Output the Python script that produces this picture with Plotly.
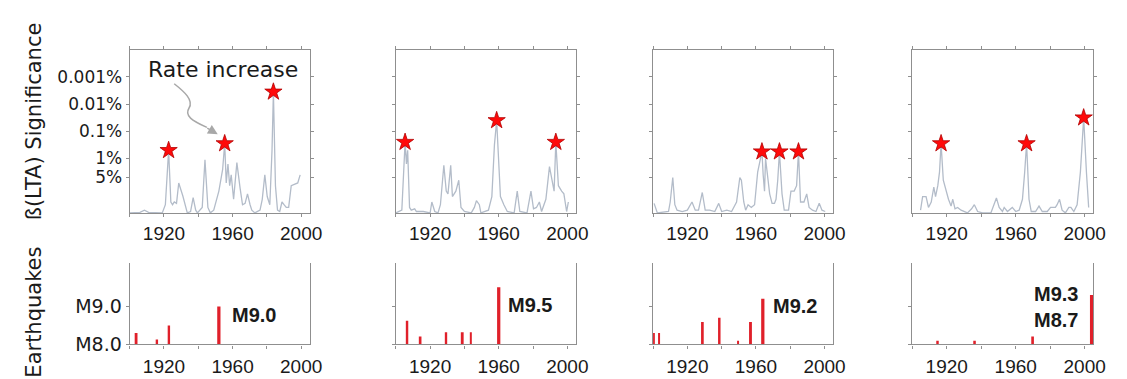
import plotly.graph_objects as go

W, H = 1127, 379

# ---------------- data ----------------
# Significance curves, expressed as -log10(p)
years1 = [1900, 1906, 1908.6, 1911, 1919, 1920.8, 1922.7, 1924, 1925, 1926, 1927.3, 1928.6, 1931, 1933.6, 1935.5, 1937, 1938.5, 1939.5, 1942.3, 1943.9, 1945.6, 1947, 1949, 1952, 1954.2, 1955.4, 1956.3, 1957.3, 1958.3, 1959.2, 1960.6, 1962.5, 1964.4, 1965.8, 1967.3, 1968.7, 1970.2, 1971.2, 1973, 1976, 1977.3, 1978.8, 1980.2, 1981.7, 1983, 1983.8, 1985, 1986.2, 1987.5, 1988.8, 1990, 1991.3, 1992.7, 1994.2, 1996, 1998, 1999.4]
sig1 = [0.0, 0.02, 0.1, 0.02, 0.0, 0.3, 2.3, 0.4, 0.3, 0.4, 0.35, 1.1, 0.62, 0.0, 0.05, 0.56, 0.1, 0.0, 0.2, 1.95, 0.2, 0.0, 0.1, 0.8, 1.6, 2.55, 1.1, 1.8, 1.0, 1.4, 0.5, 1.85, 0.9, 0.3, 0.35, 0.7, 0.3, 0.1, 0.0, 0.1, 0.5, 1.4, 0.6, 0.3, 2.3, 4.45, 1.0, 0.1, 0.05, 0.4, 0.3, 0.2, 0.2, 1.0, 1.05, 1.1, 1.4]
star1_years = [1922.7, 1955.4, 1983.8]
star1_sig = [2.3, 2.55, 4.45]

years2 = [1900, 1903.5, 1905.4, 1906.2, 1906.9, 1908, 1909, 1911, 1912, 1916, 1920, 1921, 1922.7, 1924.6, 1926, 1928, 1929.4, 1930.4, 1932, 1933, 1935, 1936.7, 1938, 1940, 1944, 1945.8, 1947, 1948.7, 1949.6, 1954, 1956, 1957.5, 1958.8, 1960.2, 1961, 1963, 1965, 1969, 1970.8, 1972.3, 1976.5, 1978.8, 1980.3, 1982, 1983.7, 1985, 1987.5, 1989.6, 1991, 1992.3, 1993.3, 1994.8, 1996.7, 1998, 1999.6, 2000.6]
sig2 = [0.0, 0.1, 2.6, 1.8, 2.3, 0.2, 0.1, 0.15, 0.05, 0.05, 0.0, 0.4, 0.05, 0.0, 0.3, 1.75, 0.8, 0.7, 1.75, 0.6, 0.8, 1.2, 0.2, 0.05, 0.0, 0.2, 0.45, 0.3, 0.0, 0.1, 0.6, 2.5, 3.4, 1.8, 0.6, 0.3, 0.05, 0.0, 0.8, 0.05, 0.0, 0.8, 0.15, 0.2, 0.4, 0.05, 0.5, 1.7, 1.2, 0.8, 2.6, 1.0, 0.8, 0.7, 0.05, 0.4]
star2_years = [1905.4, 1958.8, 1993.3]
star2_sig = [2.6, 3.4, 2.6]

years3 = [1900.6, 1902.5, 1909, 1910, 1911.5, 1912.7, 1914, 1917, 1920, 1922.7, 1924.6, 1926.5, 1928.7, 1930.4, 1933, 1936, 1938.3, 1940, 1943, 1945.8, 1948.7, 1950.6, 1951.5, 1952.9, 1954, 1955.4, 1957.3, 1959.2, 1961, 1962.5, 1963.5, 1964.2, 1965, 1965.6, 1966.5, 1968, 1969.4, 1970.8, 1971.7, 1972.7, 1973.7, 1975.2, 1976.5, 1979, 1980.4, 1982.3, 1983.7, 1984.8, 1986, 1988, 1989.6, 1991, 1993, 1995, 1996.9, 1998.5, 2000.4]
sig3 = [0.35, 0.0, 0.05, 0.4, 1.3, 0.3, 0.1, 0.05, 0.1, 0.4, 0.1, 0.1, 0.75, 0.1, 0.1, 0.05, 0.35, 0.05, 0.1, 0.05, 0.4, 1.3, 1.2, 0.4, 0.1, 0.3, 0.2, 0.3, 1.5, 2.0, 2.25, 1.4, 0.8, 2.0, 1.5, 0.7, 0.35, 0.35, 0.5, 1.2, 2.25, 0.7, 0.1, 0.1, 0.8, 0.8, 1.0, 2.25, 0.4, 0.4, 0.7, 0.2, 0.1, 0.05, 0.35, 0.1, 0.05]
star3_years = [1963.5, 1973.7, 1984.8]
star3_sig = [2.25, 2.25, 2.25]

years4 = [1904.8, 1906, 1908, 1909.4, 1911, 1912.5, 1913.5, 1914.8, 1915.8, 1916.7, 1918, 1919.6, 1921, 1922.5, 1923.5, 1924.8, 1926.3, 1928.3, 1930, 1932, 1934.4, 1936, 1937.9, 1940.8, 1945.6, 1947.5, 1948.8, 1950.4, 1952.3, 1953.3, 1955.2, 1958, 1960, 1962, 1963.9, 1965.2, 1966.3, 1967.7, 1969, 1971.5, 1973.5, 1975.4, 1978.3, 1980.2, 1983, 1984, 1985.4, 1986.9, 1988.8, 1990.8, 1992, 1993.7, 1995.6, 1997.5, 1999.4, 2001, 2002.3]
sig4 = [0.1, 0.6, 0.6, 0.2, 0.4, 0.95, 0.6, 1.0, 1.5, 2.55, 1.2, 0.8, 0.5, 0.25, 0.5, 0.15, 0.2, 0.1, 0.05, 0.0, 0.15, 0.3, 0.05, 0.0, 0.0, 0.3, 0.55, 0.2, 0.05, 0.2, 0.05, 0.2, 0.05, 0.1, 0.5, 1.5, 2.55, 0.5, 0.05, 0.05, 0.25, 0.05, 0.05, 0.2, 0.2, 0.3, 0.5, 0.1, 0.0, 0.2, 0.2, 0.05, 0.3, 1.5, 3.5, 1.5, 0.2]
star4_years = [1916.7, 1966.3, 1999.4]
star4_sig = [2.55, 2.55, 3.5]

# Earthquakes (year, magnitude)
eq1_years = [1904, 1916, 1923, 1952]
eq1_mag = [8.3, 8.13, 8.5, 9.0]
eq2_years = [1906.7, 1914.4, 1929.4, 1939, 1943.7, 1960]
eq2_mag = [8.62, 8.21, 8.32, 8.32, 8.32, 9.5]
eq3_years = [1900.5, 1903.5, 1929, 1938.8, 1949.6, 1957.1, 1964]
eq3_mag = [8.3, 8.3, 8.59, 8.7, 8.1, 8.59, 9.2]
eq4_years = [1914.8, 1936.3, 1970, 2004, 2005]
eq4_mag = [8.1, 8.1, 8.21, 9.3, 8.7]

big_labels = ["M9.0", "M9.5", "M9.2", "M9.3<br>M8.7"]

sig_tickvals = [5, 4, 3, 2, 1.301]
sig_ticktext = ["0.001%", "0.01%", "0.1%", "1%", "5%"]
mag_tickvals = [8, 9]
mag_ticktext = ["M8.0", "M9.0"]
year_ticks = [1900, 1920, 1940, 1960, 1980, 2000]
year_labels = ["", "1920", "", "1960", "", "2000"]

# ---------------- layout helpers ----------------
def px_x(p):
    return p / W

def px_y(p):
    return 1 - p / H

panel_x = [(123, 305), (392, 574), (652, 834), (914, 1097)]
top_y = (43, 211)
bot_y = (263, 346.5)

curves = [(years1, sig1, star1_years, star1_sig),
          (years2, sig2, star2_years, star2_sig),
          (years3, sig3, star3_years, star3_sig),
          (years4, sig4, star4_years, star4_sig)]
quakes = [(eq1_years, eq1_mag), (eq2_years, eq2_mag), (eq3_years, eq3_mag), (eq4_years, eq4_mag)]

CURVE = "#b3bcc9"
AXC = "#8f8f8f"
RED = "#e0202a"
TXT = "#1a1a1a"
FONT = "DejaVu Sans"

fig = go.Figure()
layout = dict(width=W, height=H, autosize=False, margin=dict(l=0, r=0, t=0, b=0),
              paper_bgcolor="white", plot_bgcolor="white", showlegend=False)

for i in range(4):
    xa_t = 2 * i + 1
    xa_b = 2 * i + 2
    yr, sg, sy, ss = curves[i]
    fig.add_trace(go.Scatter(x=yr, y=sg, mode="lines", line=dict(color=CURVE, width=1.3),
                             xaxis=f"x{xa_t}", yaxis=f"y{xa_t}", hoverinfo="skip"))
    fig.add_trace(go.Scatter(x=sy, y=ss, mode="markers",
                             marker=dict(symbol="star", size=13, color="#ff0a0a",
                                         line=dict(color="#b00000", width=0.8)),
                             xaxis=f"x{xa_t}", yaxis=f"y{xa_t}"))
    qy, qm = quakes[i]
    widths = [1.9 if m >= 9.0 else 1.1 for m in qm]
    fig.add_trace(go.Bar(x=qy, y=[m - 8 for m in qm], base=8, width=widths,
                         marker=dict(color=RED, line=dict(width=0)),
                         xaxis=f"x{xa_b}", yaxis=f"y{xa_b}"))

    x0, x1 = panel_x[i]
    dom_x = [px_x(x0), px_x(x1)]
    sfx_t = "" if xa_t == 1 else str(xa_t)
    sfx_b = str(xa_b)
    layout[f"xaxis{sfx_t}"] = dict(domain=dom_x, anchor=f"y{xa_t}", range=[1900, 2005],
                                   tickvals=year_ticks, ticktext=year_labels,
                                   showline=True, linecolor=AXC, linewidth=1.2, mirror="ticks",
                                   ticks="outside", ticklen=3, tickcolor=AXC, showgrid=False,
                                   zeroline=False, ticklabelstandoff=0,
                                   tickfont=dict(family="Liberation Sans", size=19, color=TXT))
    layout[f"yaxis{sfx_t}"] = dict(domain=[px_y(top_y[1]), px_y(top_y[0])], anchor=f"x{xa_t}",
                                   range=[0, 6], tickvals=sig_tickvals, ticktext=sig_ticktext,
                                   showticklabels=(i == 0),
                                   showline=True, linecolor=AXC, linewidth=1.2, mirror="ticks",
                                   ticks="outside", ticklen=3, tickcolor=AXC, showgrid=False,
                                   zeroline=False, ticklabelstandoff=0,
                                   tickfont=dict(family=FONT, size=17, color=TXT))
    layout[f"xaxis{sfx_b}"] = dict(domain=dom_x, anchor=f"y{xa_b}", range=[1900, 2005],
                                   tickvals=year_ticks, ticktext=year_labels,
                                   showline=True, linecolor=AXC, linewidth=1.2, mirror=False,
                                   ticks="outside", ticklen=3, tickcolor=AXC, showgrid=False,
                                   zeroline=False, ticklabelstandoff=2,
                                   tickfont=dict(family="Liberation Sans", size=19, color=TXT))
    layout[f"yaxis{sfx_b}"] = dict(domain=[px_y(bot_y[1]), px_y(bot_y[0])], anchor=f"x{xa_b}",
                                   range=[8, 10.13], tickvals=mag_tickvals, ticktext=mag_ticktext,
                                   showticklabels=(i == 0),
                                   showline=True, linecolor=AXC, linewidth=1.2, mirror=True,
                                   ticks="outside", ticklen=3, tickcolor=AXC, showgrid=False,
                                   zeroline=False, ticklabelstandoff=0,
                                   tickfont=dict(family=FONT, size=19, color=TXT))

fig.update_layout(**layout)

annotations = []
# axis titles
annotations.append(dict(text="ß(LTA) Significance", xref="paper", yref="paper",
                        x=px_x(26), y=px_y(117), textangle=-90, showarrow=False,
                        font=dict(family=FONT, size=21, color=TXT), xanchor="center", yanchor="middle"))
annotations.append(dict(text="Earthquakes", xref="paper", yref="paper",
                        x=px_x(26), y=px_y(313), textangle=-90, showarrow=False,
                        font=dict(family=FONT, size=21, color=TXT), xanchor="center", yanchor="middle"))
# Rate increase
annotations.append(dict(text="Rate increase", xref="paper", yref="paper",
                        x=px_x(217), y=px_y(63), showarrow=False,
                        font=dict(family=FONT, size=22, color=TXT), xanchor="center", yanchor="middle"))
# arrowhead for curved arrow
annotations.append(dict(text="", xref="paper", yref="paper", x=px_x(212), y=px_y(130),
                        ax=-12, ay=-7, axref="pixel", ayref="pixel",
                        showarrow=True, arrowhead=2, arrowsize=1.3, arrowwidth=1.5, arrowcolor="#a8a8a8"))
# magnitude labels
lab_pos = [(224, 316.5, "left"), (503, 306, "left"), (771, 307, "left"), (1084, 308, "right")]
for (lx, ly, anc), txt in zip(lab_pos, big_labels):
    annotations.append(dict(text=f"<b>{txt}</b>", xref="paper", yref="paper", x=px_x(lx), y=px_y(ly),
                            showarrow=False, xanchor=anc, yanchor="middle", align="right",
                            font=dict(family="Liberation Sans", size=20, color=TXT)))
fig.update_layout(annotations=annotations)

# curved arrow body (paper coordinates)
def P(x, y):
    return f"{px_x(x):.5f},{px_y(y):.5f}"

path = (f"M {P(168, 78)} C {P(178, 86)} {P(188, 95)} {P(183, 103)} "
        f"S {P(186, 116)} {P(201, 123)}")
fig.add_shape(type="path", path=path, xref="paper", yref="paper",
              line=dict(color="#a8a8a8", width=1.5))

fig.write_html("out.html")
